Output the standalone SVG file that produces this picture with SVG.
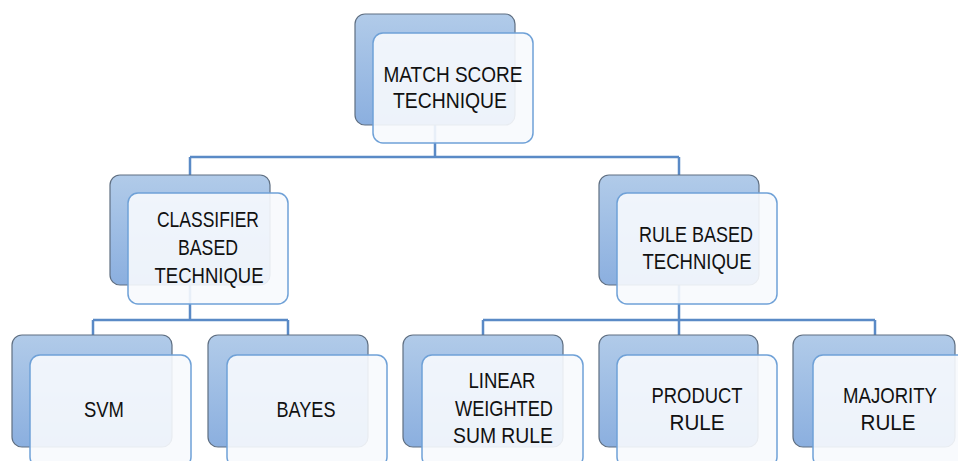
<svg xmlns="http://www.w3.org/2000/svg" width="958" height="461" viewBox="0 0 958 461">
<defs>
<linearGradient id="g" x1="0" y1="0" x2="0" y2="1">
<stop offset="0" stop-color="#b1cbe9"/>
<stop offset="1" stop-color="#8bafdf"/>
</linearGradient>
<style>
.back{fill:url(#g);stroke:#5f6f82;stroke-width:1.2}
.front{fill:#f7f9fd;fill-opacity:0.9;stroke:#6fa1d7;stroke-width:1.5}
.con{fill:none;stroke:#5a8ac6;stroke-width:2.5}
text{font-family:"Liberation Sans",Arial,sans-serif;font-size:22.5px;fill:#111;text-anchor:middle}
</style>
</defs>
<rect width="958" height="461" fill="#fff"/>
<g id="connectors">
<path class="con" d="M435 125V157M190 157H679M190 157V175M679 157V175"/>
<path class="con" d="M190 285V320M93 320H288M93 320V335M288 320V335"/>
<path class="con" d="M679 285V320M483 320H875M483 320V335M679 320V335M875 320V335"/>
</g>
<g id="match">
<rect class="back" x="355" y="14" width="160" height="111" rx="10"/>
<rect class="front" x="373" y="33" width="160" height="110" rx="10"/>
<text x="453" y="82" textLength="139" lengthAdjust="spacingAndGlyphs">MATCH SCORE</text>
<text x="450" y="108" textLength="114" lengthAdjust="spacingAndGlyphs">TECHNIQUE</text>
</g>
<g id="classifier">
<rect class="back" x="110" y="175" width="160" height="110" rx="10"/>
<rect class="front" x="128" y="193" width="160" height="111" rx="10"/>
<text x="208" y="227" textLength="102" lengthAdjust="spacingAndGlyphs">CLASSIFIER</text>
<text x="208" y="255" textLength="60" lengthAdjust="spacingAndGlyphs">BASED</text>
<text x="209" y="283" textLength="109" lengthAdjust="spacingAndGlyphs">TECHNIQUE</text>
</g>
<g id="rulebased">
<rect class="back" x="599" y="175" width="160" height="110" rx="10"/>
<rect class="front" x="617" y="193" width="160" height="111" rx="10"/>
<text x="696" y="242" textLength="114" lengthAdjust="spacingAndGlyphs">RULE BASED</text>
<text x="697" y="269" textLength="109" lengthAdjust="spacingAndGlyphs">TECHNIQUE</text>
</g>
<g id="svm">
<rect class="back" x="12" y="335" width="160" height="112" rx="10"/>
<rect class="front" x="30" y="355" width="161" height="112" rx="10"/>
<text x="104" y="417" textLength="40" lengthAdjust="spacingAndGlyphs">SVM</text>
</g>
<g id="bayes">
<rect class="back" x="208" y="335" width="160" height="112" rx="10"/>
<rect class="front" x="227" y="355" width="160" height="112" rx="10"/>
<text x="306" y="417" textLength="59" lengthAdjust="spacingAndGlyphs">BAYES</text>
</g>
<g id="linear">
<rect class="back" x="403" y="335" width="160" height="112" rx="10"/>
<rect class="front" x="422" y="355" width="161" height="112" rx="10"/>
<text x="502" y="388" textLength="67" lengthAdjust="spacingAndGlyphs">LINEAR</text>
<text x="504" y="416" textLength="98" lengthAdjust="spacingAndGlyphs">WEIGHTED</text>
<text x="503" y="443" textLength="100" lengthAdjust="spacingAndGlyphs">SUM RULE</text>
</g>
<g id="product">
<rect class="back" x="599" y="335" width="159" height="112" rx="10"/>
<rect class="front" x="617" y="355" width="160" height="112" rx="10"/>
<text x="697" y="403" textLength="91" lengthAdjust="spacingAndGlyphs">PRODUCT</text>
<text x="697" y="430" textLength="55" lengthAdjust="spacingAndGlyphs">RULE</text>
</g>
<g id="majority">
<rect class="back" x="793" y="335" width="162" height="112" rx="10"/>
<rect class="front" x="813" y="355" width="160" height="112" rx="10"/>
<text x="890" y="403" textLength="94" lengthAdjust="spacingAndGlyphs">MAJORITY</text>
<text x="888" y="430" textLength="55" lengthAdjust="spacingAndGlyphs">RULE</text>
</g>
</svg>
